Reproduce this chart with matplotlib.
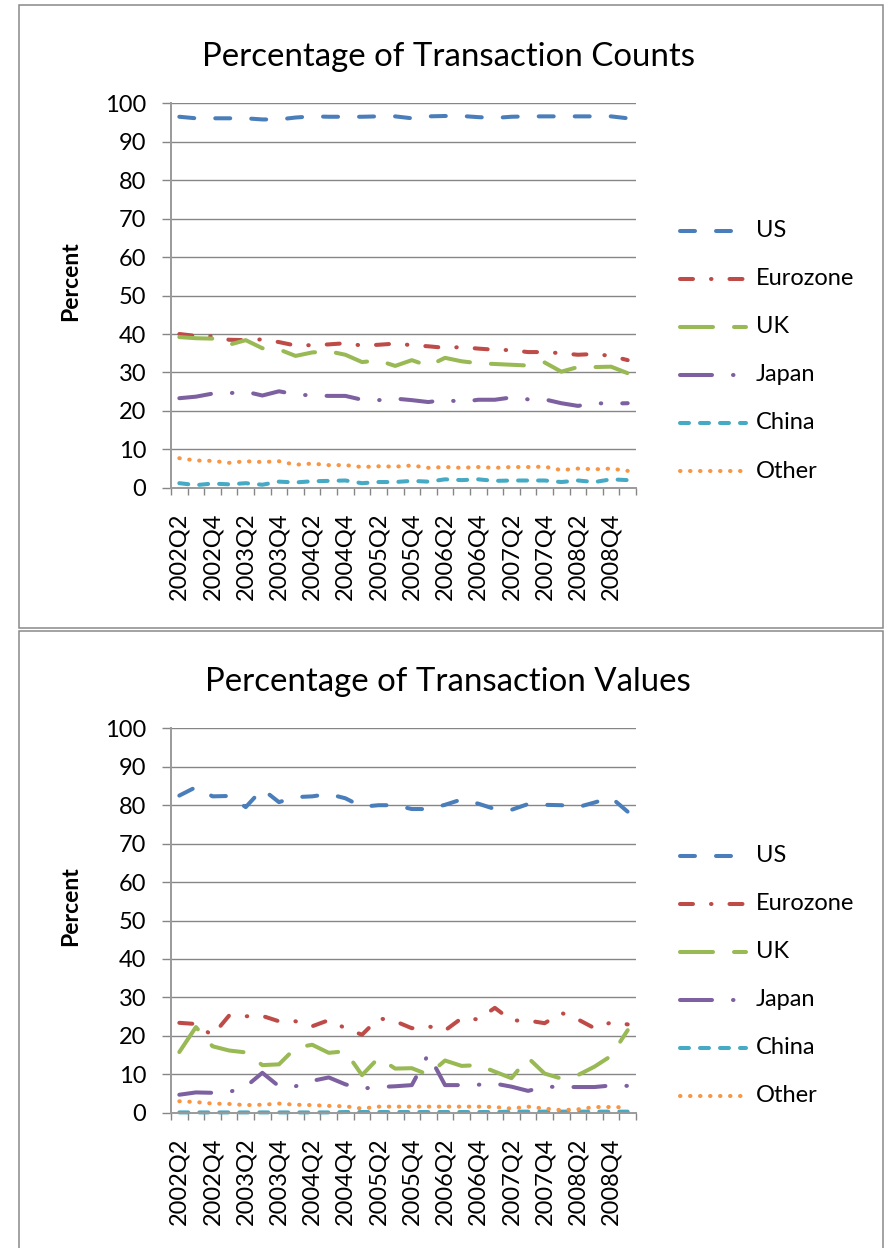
import numpy as np
import matplotlib
matplotlib.use("Agg")
import matplotlib.pyplot as plt
from matplotlib.lines import Line2D
from matplotlib.patches import Rectangle

plt.rcParams['font.family'] = ['Lato', 'DejaVu Sans']
plt.rcParams['lines.scale_dashes'] = False

# categories
quarters = ['2002Q2', '2002Q3', '2002Q4', '2003Q1', '2003Q2', '2003Q3', '2003Q4',
            '2004Q1', '2004Q2', '2004Q3', '2004Q4', '2005Q1', '2005Q2', '2005Q3',
            '2005Q4', '2006Q1', '2006Q2', '2006Q3', '2006Q4', '2007Q1', '2007Q2',
            '2007Q3', '2007Q4', '2008Q1', '2008Q2', '2008Q3', '2008Q4', '2009Q1']
series_names = ['US', 'Eurozone', 'UK', 'Japan', 'China', 'Other']

# percentage of transaction counts
us_cnt = [96.5, 96.1, 96.1, 96.1, 96.1, 95.8, 95.8, 96.3, 96.6, 96.5, 96.5, 96.5, 96.6, 96.6,
          96.1, 96.6, 96.7, 96.7, 96.4, 96.2, 96.5, 96.6, 96.6, 96.6, 96.6, 96.6, 96.6, 96.1]
eu_cnt = [40.0, 39.5, 39.4, 38.5, 38.4, 38.6, 37.9, 37.0, 37.1, 37.3, 37.6, 37.0, 37.2, 37.5,
          37.1, 36.8, 36.4, 36.6, 36.2, 35.9, 35.8, 35.3, 35.3, 35.0, 34.6, 34.8, 34.3, 33.2]
uk_cnt = [39.2, 38.9, 38.8, 37.2, 38.4, 36.3, 36.0, 34.3, 35.2, 35.5, 34.6, 32.7, 33.1, 31.7,
          33.2, 31.7, 33.8, 32.9, 32.4, 32.2, 32.0, 31.8, 32.6, 30.2, 31.4, 31.4, 31.5, 29.8]
jp_cnt = [23.3, 23.7, 24.5, 24.6, 25.0, 24.0, 25.1, 24.3, 24.0, 23.9, 23.9, 22.9, 22.8, 23.2,
          22.8, 22.3, 22.9, 22.3, 22.9, 22.9, 23.5, 23.0, 23.0, 22.0, 21.3, 22.0, 21.9, 22.0]
cn_cnt = [1.2, 0.7, 1.1, 0.9, 1.2, 0.8, 1.6, 1.4, 1.7, 1.8, 1.9, 1.2, 1.5, 1.5,
          1.8, 1.6, 2.2, 2.0, 2.2, 1.8, 1.9, 1.9, 1.9, 1.5, 1.9, 1.5, 2.2, 2.0]
ot_cnt = [7.7, 7.1, 7.0, 6.5, 6.9, 6.7, 6.9, 6.0, 6.3, 5.9, 5.9, 5.4, 5.6, 5.5,
          5.8, 5.2, 5.4, 5.2, 5.4, 5.2, 5.4, 5.4, 5.5, 4.6, 5.0, 4.8, 5.0, 4.4]

# percentage of transaction values
us_val = [82.5, 84.7, 82.3, 82.4, 79.5, 84.2, 80.8, 82.1, 82.3, 82.9, 81.8, 79.6, 80.0, 80.0,
          79.0, 79.0, 80.1, 81.5, 80.4, 79.0, 78.8, 80.3, 80.1, 80.0, 79.5, 80.7, 82.0, 78.3]
eu_val = [23.4, 23.1, 20.1, 25.3, 25.1, 25.2, 23.8, 23.8, 22.5, 24.1, 22.0, 20.3, 24.6, 23.8,
          22.0, 22.5, 21.4, 24.6, 24.3, 27.3, 24.0, 24.0, 23.3, 26.0, 24.3, 22.0, 23.5, 23.0]
uk_val = [15.8, 22.3, 17.3, 16.2, 15.7, 12.4, 12.6, 16.9, 17.7, 15.6, 16.0, 9.8, 14.3, 11.5,
          11.6, 9.9, 13.6, 12.2, 12.4, 10.7, 9.0, 14.3, 10.2, 8.9, 9.8, 12.0, 14.8, 21.5]
jp_val = [4.7, 5.3, 5.2, 5.4, 6.8, 10.4, 6.9, 6.9, 8.3, 9.2, 7.4, 6.3, 6.7, 6.9,
          7.2, 15.3, 7.2, 7.2, 7.3, 7.6, 6.8, 5.7, 6.8, 6.7, 6.7, 6.7, 7.1, 7.0]
cn_val = [0.1, 0.1, 0.1, 0.1, 0.1, 0.1, 0.1, 0.1, 0.1, 0.1, 0.2, 0.2, 0.2, 0.2,
          0.2, 0.2, 0.2, 0.2, 0.2, 0.2, 0.3, 0.3, 0.3, 0.3, 0.3, 0.3, 0.3, 0.3]
ot_val = [3.0, 2.8, 2.4, 2.3, 2.0, 2.1, 2.4, 2.1, 2.0, 1.8, 1.7, 1.1, 1.6, 1.6,
          1.6, 1.6, 1.6, 1.6, 1.6, 1.5, 1.1, 1.6, 1.1, 0.7, 0.9, 1.5, 1.5, 1.4]

W, H = 890, 1248
fig = plt.figure(figsize=(W / 100, H / 100), dpi=100)


def fx(px):
    return px / W


def fy(py):
    return 1 - py / H


def pat(*px):
    # dash pattern given in pixels, converted to points
    return (0, tuple(p * 0.72 for p in px))


colors = ['#4A7EBB', '#BE4B48', '#98B954', '#7D60A0', '#46AAC5', '#F79646']
styles = [pat(15, 21), pat(13, 18, 0.5, 18), pat(33, 21), pat(32, 21, 0.5, 21),
          pat(9, 11), pat(0.5, 9.5)]
LW = 2.9
GRID = '#868686'


def draw_panel(offset, title, data):
    top, bottom = 103.3 + offset, 487.8 + offset
    ax = fig.add_axes([fx(171), fy(bottom), fx(636) - fx(171), (bottom - top) / H])
    x = np.arange(len(quarters))
    for vals, c, ls in zip(data, colors, styles):
        ax.plot(x, vals, color=c, lw=LW, linestyle=ls, dash_capstyle='round',
                dash_joinstyle='round', solid_capstyle='round', clip_on=False)
    ax.set_ylim(0, 100)
    ax.set_yticks(np.arange(0, 101, 10))
    ax.set_xlim(-0.5, len(quarters) - 0.5)
    ax.set_xticks(np.arange(-0.5, len(quarters), 1))
    ax.set_xticklabels([])
    ax.set_xticks(x[::2], minor=True)
    ax.set_xticklabels(quarters[::2], minor=True, rotation=90)
    ax.yaxis.grid(True, color=GRID, lw=1)
    ax.set_axisbelow(True)
    for s in ['top', 'right']:
        ax.spines[s].set_visible(False)
    for s in ['left', 'bottom']:
        ax.spines[s].set_color('#9a9a9a')
        ax.spines[s].set_linewidth(1.4)
    ax.tick_params(axis='y', length=6.7, width=1, color=GRID, pad=11, labelsize=17)
    ax.tick_params(axis='x', which='major', length=5, width=1, color=GRID)
    ax.tick_params(axis='x', which='minor', length=0, pad=18, labelsize=17)

    fig.text(fx(448), fy(66 + offset), title, ha='center', va='baseline', fontsize=23.8)
    fig.text(fx(71), fy(281 + offset), 'Percent', rotation=90, ha='center', va='center',
             fontsize=16.5, fontweight='bold')

    for i, (name, c, ls) in enumerate(zip(series_names, colors, styles)):
        yy = 230.5 + offset + i * 48.1
        fig.add_artist(Line2D([fx(680.3), fx(746.3)], [fy(yy), fy(yy)], color=c, lw=LW,
                              linestyle=ls, dash_capstyle='round', solid_capstyle='round'))
        fig.text(fx(756), fy(yy), name, ha='left', va='center', fontsize=17)
    return ax


draw_panel(0, 'Percentage of Transaction Counts',
           [us_cnt, eu_cnt, uk_cnt, jp_cnt, cn_cnt, ot_cnt])
draw_panel(625, 'Percentage of Transaction Values',
           [us_val, eu_val, uk_val, jp_val, cn_val, ot_val])

# chart borders
fig.add_artist(Rectangle((fx(18.5), fy(627.5)), fx(882.5) - fx(18.5), (627.5 - 4.5) / H,
                         transform=fig.transFigure, fill=False, ec='#898989', lw=1.1))
fig.add_artist(Rectangle((fx(18.5), fy(1260)), fx(882.5) - fx(18.5), (1260 - 630.5) / H,
                         transform=fig.transFigure, fill=False, ec='#898989', lw=1.1))

fig.savefig('out.png', dpi=100)
